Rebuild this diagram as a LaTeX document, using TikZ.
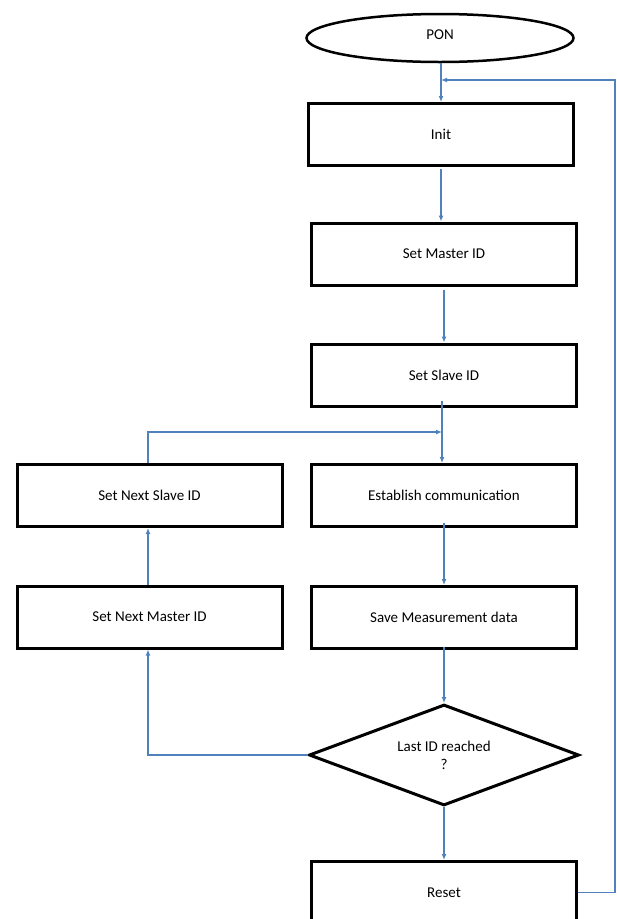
\documentclass[tikz,border=0pt]{standalone}
\usepackage{fontspec}
\setmainfont{Carlito}
\usetikzlibrary{shapes.geometric,arrows.meta}
\definecolor{lineblue}{HTML}{4F81BD}
\tikzset{
  stepbox/.style={draw=black,line width=3pt,fill=white,minimum width=265pt,minimum height=62pt,inner sep=0pt,font=\fontsize{15}{17}\selectfont},
  startnode/.style={ellipse,draw=black,line width=2.5pt,minimum width=267pt,minimum height=48pt,inner sep=0pt,font=\fontsize{15}{17}\selectfont},
  decide/.style={diamond,draw=black,line width=3pt,minimum width=270pt,minimum height=101pt,inner sep=0pt,aspect=2.6,align=center,font=\fontsize{15}{18}\selectfont},
  flow/.style={draw=lineblue,line width=1.6pt,-{Latex[length=6pt,width=5pt]}},
  flowline/.style={draw=lineblue,line width=1.6pt}
}
\begin{document}
\begin{tikzpicture}[x=1pt,y=-1pt]
\useasboundingbox (0,0) rectangle (617,919);
\node[startnode] (pon) at (440,38) {\raisebox{7pt}{PON}};
\node[stepbox] (init) at (441,134.5) {Init};
\node[stepbox] (master) at (444,254) {Set Master ID};
\node[stepbox] (slave) at (444,375) {Set Slave ID};
\node[stepbox] (estab) at (444,495.5) {Establish communication};
\node[stepbox] (save) at (444,617.5) {Save Measurement data};
\node[stepbox] (nslave) at (149.5,495.5) {Set Next Slave ID};
\node[stepbox] (nmaster) at (149.5,617) {Set Next Master ID};
\node[decide] (last) at (444,755) {Last ID reached\\?};
\node[stepbox] (reset) at (444,892.5) {Reset};
\coordinate (fb) at (441,80);
\coordinate (join) at (442,432);
\coordinate (rcorner) at (615,892.5);
\coordinate (tcorner) at (615,80);
\coordinate (lcorner) at (148,755);
\coordinate (ucorner) at (148,432);
\draw[flow] (pon.south -| fb) -- (init.north -| fb);
\draw[flow] (init.south) ++(0,2) -- (master.north -| init.south);
\draw[flow] (master.south) ++(0,3) -- (slave.north);
\draw[flow] ([yshift=7pt]slave.south -| join) -- (estab.north -| join);
\draw[flow] ([yshift=5pt]estab.south) -- (save.north);
\draw[flow] ([yshift=3pt]save.south) -- (last.north);
\draw[flow] (last.south) -- (reset.north);
\draw[flow] (last.west) -- (lcorner) -- (nmaster.south -| lcorner);
\draw[flow] (nmaster.north -| lcorner) -- (nslave.south -| lcorner);
\draw[flow] (nslave.north -| ucorner) -- (ucorner) -- (join);
\draw[flow] (reset.east) -- (rcorner) -- (tcorner) -- (fb);
\end{tikzpicture}
\end{document}
